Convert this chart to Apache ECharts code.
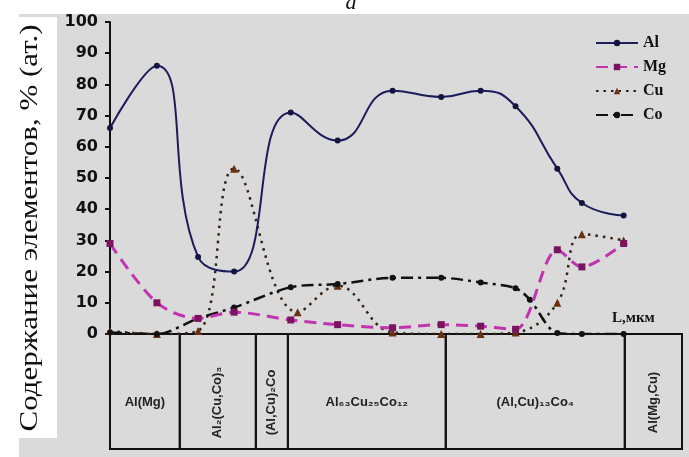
<!DOCTYPE html>
<html>
<head>
<meta charset="utf-8">
<script src="https://cdn.jsdelivr.net/npm/echarts@6/dist/echarts.min.js"></script>
<style>
html,body{margin:0;padding:0;background:#fff;}
#chart{width:689px;height:457px;}
</style>
</head>
<body>
<div id="chart"></div>
<script>
// distance along the sample, arbitrary units 0..100 across the plot
const lAl = [0, 8.2, 15.4, 21.7, 31.6, 39.8, 49.4, 57.9, 64.8, 70.9, 78.2, 82.5, 89.8];
const valAl = [66, 86, 24.7, 20, 71, 62, 78, 76, 78, 73, 53, 42, 38];
const lMg = [0, 8.2, 15.4, 21.7, 31.6, 39.8, 49.4, 57.9, 64.8, 70.9, 78.2, 82.5, 89.8];
const valMg = [29, 10, 5, 7, 4.5, 3, 2, 3, 2.5, 1.5, 27, 21.5, 29];
const lCu = [0, 8.2, 15.4, 21.7, 32.8, 39.8, 49.4, 57.9, 64.8, 70.9, 78.2, 82.5, 89.8];
const valCu = [1, 0, 1, 53, 7, 15.5, 0.5, 0, 0, 0.5, 10, 32, 30];
const lCo = [0, 8.2, 15.4, 21.7, 31.6, 39.8, 49.4, 57.9, 64.8, 70.9, 73.4, 78.2, 82.5, 89.8];
const valCo = [0.5, 0, 5, 8.5, 15, 16, 18, 18, 16.5, 14.7, 11, 0.3, 0, 0];

// phases shown in the table under the plot
const phaseNames = ['Al(Mg)', 'Al₂(Cu,Co)₃', '(Al,Cu)₂Co', 'Al₆₃Cu₂₅Co₁₂', '(Al,Cu)₁₃Co₄', 'Al(Mg,Cu)'];
const phaseEdges = [0, 12.2, 25.5, 31.1, 58.7, 90.0, 100];
const phaseVertical = [false, true, true, false, false, true];

const yTitle = 'Содержание элементов, % (ат.)';
const xTitle = 'L,мкм';

function pairs(xs, ys) {
  return xs.map((x, i) => [x, ys[i]]);
}

let chart = echarts.init(document.getElementById('chart'));
chart.setOption({
  backgroundColor: '#fff',
  animation: false,
  grid: [
    {left: 110, right: 7, top: 22, bottom: 123},
    {left: 110, right: 7, top: 334, height: 115}
  ],
  xAxis: [
    {type: 'value', gridIndex: 0, min: 0, max: 100, show: false},
    {type: 'value', gridIndex: 1, min: 0, max: 100, show: false}
  ],
  yAxis: [
    {
      type: 'value', gridIndex: 0, min: 0, max: 100, interval: 10,
      splitLine: {show: false},
      axisLine: {show: true, lineStyle: {color: '#111', width: 2}},
      axisTick: {show: true, length: 5, lineStyle: {color: '#111', width: 2}},
      axisLabel: {fontFamily: 'DejaVu Sans', fontWeight: 'bold', fontSize: 16, color: '#111', margin: 12}
    },
    {type: 'value', gridIndex: 1, min: 0, max: 1, show: false}
  ],
  legend: {
    orient: 'vertical',
    left: 590,
    top: 30,
    itemWidth: 42,
    itemHeight: 8,
    itemGap: 8,
    textStyle: {fontFamily: 'Liberation Serif', fontWeight: 'bold', fontSize: 16, color: '#111'},
    data: ['Al', 'Mg', 'Cu', 'Co']
  },
  graphic: [
    {type: 'rect', z: -10, shape: {x: 19, y: 14, width: 670, height: 443}, style: {fill: '#dadada'}},
    {type: 'rect', z: -9, shape: {x: 0, y: 17, width: 57, height: 421}, style: {fill: '#fff'}},
    {type: 'text', x: 30, y: 228, rotation: Math.PI / 2, scaleX: 1.24,
      style: {text: yTitle, fontFamily: 'Liberation Serif', fontSize: 25, fill: '#111', textAlign: 'center', textVerticalAlign: 'middle'}},
    {type: 'text', x: 351, y: 14,
      style: {text: 'a', fontFamily: 'Liberation Serif', fontStyle: 'italic', fontSize: 22, fill: '#111', textAlign: 'center', textVerticalAlign: 'bottom'}},
    {type: 'text', x: 612, y: 318,
      style: {text: xTitle, fontFamily: 'Liberation Serif', fontWeight: 'bold', fontSize: 15, fill: '#111', textVerticalAlign: 'middle'}}
  ],
  series: [
    {
      name: 'Al', type: 'line', smooth: 0.5, data: pairs(lAl, valAl),
      symbol: 'circle', symbolSize: 6,
      lineStyle: {color: '#1c1c5a', width: 2},
      itemStyle: {color: '#141440'},
      z: 5
    },
    {
      name: 'Mg', type: 'line', smooth: 0.3, data: pairs(lMg, valMg),
      symbol: 'rect', symbolSize: 7,
      lineStyle: {color: '#c233b0', width: 3, type: [12, 7]},
      itemStyle: {color: '#7a1460'},
      z: 4
    },
    {
      name: 'Cu', type: 'line', smooth: 0.4, data: pairs(lCu, valCu),
      symbol: 'triangle', symbolSize: 8,
      lineStyle: {color: '#2e2418', width: 2.5, type: [2.5, 5]},
      itemStyle: {color: '#6a3010'},
      z: 3
    },
    {
      name: 'Co', type: 'line', smooth: 0.3, data: pairs(lCo, valCo),
      symbol: 'circle', symbolSize: 6,
      lineStyle: {color: '#111', width: 2.5, type: [12, 5, 3, 5]},
      itemStyle: {color: '#111'},
      z: 3
    },
    {
      type: 'custom',
      xAxisIndex: 1,
      yAxisIndex: 1,
      data: phaseNames.map((n, i) => [phaseEdges[i], phaseEdges[i + 1]]),
      renderItem: function (params, api) {
        const s = api.coord([api.value(0), 1]);
        const e = api.coord([api.value(1), 0]);
        const i = params.dataIndex;
        return {
          type: 'group',
          children: [
            {type: 'rect', shape: {x: s[0], y: s[1], width: e[0] - s[0], height: e[1] - s[1]},
              style: {fill: 'none', stroke: '#111', lineWidth: 2}},
            {type: 'text', x: (s[0] + e[0]) / 2, y: (s[1] + e[1]) / 2 + 11,
              rotation: phaseVertical[i] ? Math.PI / 2 : 0,
              style: {text: phaseNames[i], fontFamily: 'Liberation Sans', fontWeight: 'bold', fontSize: 13,
                fill: '#222', textAlign: 'center', textVerticalAlign: 'middle'}}
          ]
        };
      }
    }
  ]
});
</script>
</body>
</html>
